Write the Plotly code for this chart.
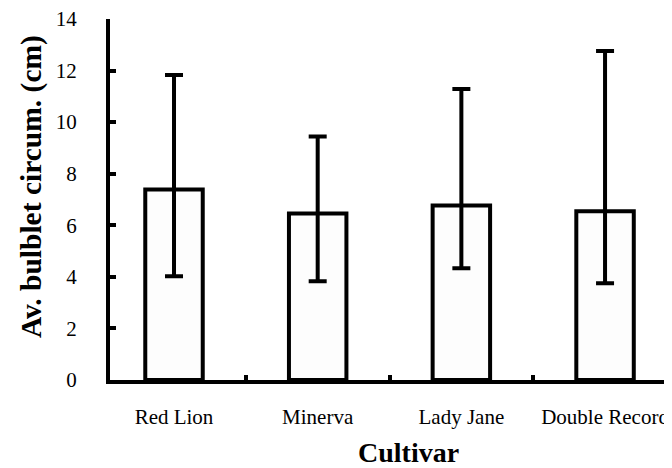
import plotly.graph_objects as go

cultivars = ["Red Lion", "Minerva", "Lady Jane", "Double Record"]
means = [7.39, 6.46, 6.77, 6.54]
upper = [11.83, 9.44, 11.29, 12.76]
lower = [4.02, 3.83, 4.33, 3.75]

err_plus = [u - m for u, m in zip(upper, means)]
err_minus = [m - l for m, l in zip(means, lower)]

FONT = "Liberation Serif, Times New Roman, serif"

W, H = 672, 468
L, R, T, B = 102, 8, 11, 96
PW, PH = W - L - R, H - T - B

fig = go.Figure()
fig.add_trace(go.Bar(
    x=cultivars, y=means, width=0.4,
    marker=dict(color="#fdfdfd", line=dict(color="black", width=4)),
    error_y=dict(type="data", symmetric=False, array=err_plus, arrayminus=err_minus,
                 color="black", thickness=4, width=9),
))

fig.update_layout(
    width=W, height=H,
    margin=dict(l=L, r=R, t=T, b=B, autoexpand=False),
    plot_bgcolor="white", paper_bgcolor="white",
    showlegend=False,
    font=dict(family=FONT, color="black"),
    xaxis=dict(
        type="category", range=[-0.4455, 3.466], automargin=False,
        showline=True, linecolor="black", linewidth=4,
        ticks="inside", tickson="boundaries", ticklen=5, tickwidth=4, tickcolor="black",
        tickfont=dict(family=FONT, size=21, color="black"),
        ticklabelstandoff=15, ticklabeloverflow="allow",
        showgrid=False, zeroline=False,
    ),
    yaxis=dict(
        range=[0, 14], tickvals=[0, 2, 4, 6, 8, 10, 12, 14], automargin=False,
        showline=True, linecolor="black", linewidth=4,
        ticks="inside", ticklen=6, tickwidth=4, tickcolor="black",
        tickfont=dict(family=FONT, size=21, color="black"),
        ticklabelstandoff=25, ticklabeloverflow="allow",
        showgrid=False, zeroline=False,
    ),
    annotations=[
        dict(text="<b>Cultivar</b>", xref="paper", yref="paper",
             x=(400 - L) / PW, y=-(444 - (T + PH)) / PH, xanchor="center", yanchor="middle",
             showarrow=False, font=dict(family=FONT, size=28, color="black")),
        dict(text="<b>Av. bulblet circum. (cm)</b>", xref="paper", yref="paper",
             x=-(L - 23) / PW, y=((T + PH) - 179) / PH, xanchor="center", yanchor="middle",
             textangle=-90, showarrow=False, font=dict(family=FONT, size=29.5, color="black")),
    ],
)

fig.write_html("out.html")
